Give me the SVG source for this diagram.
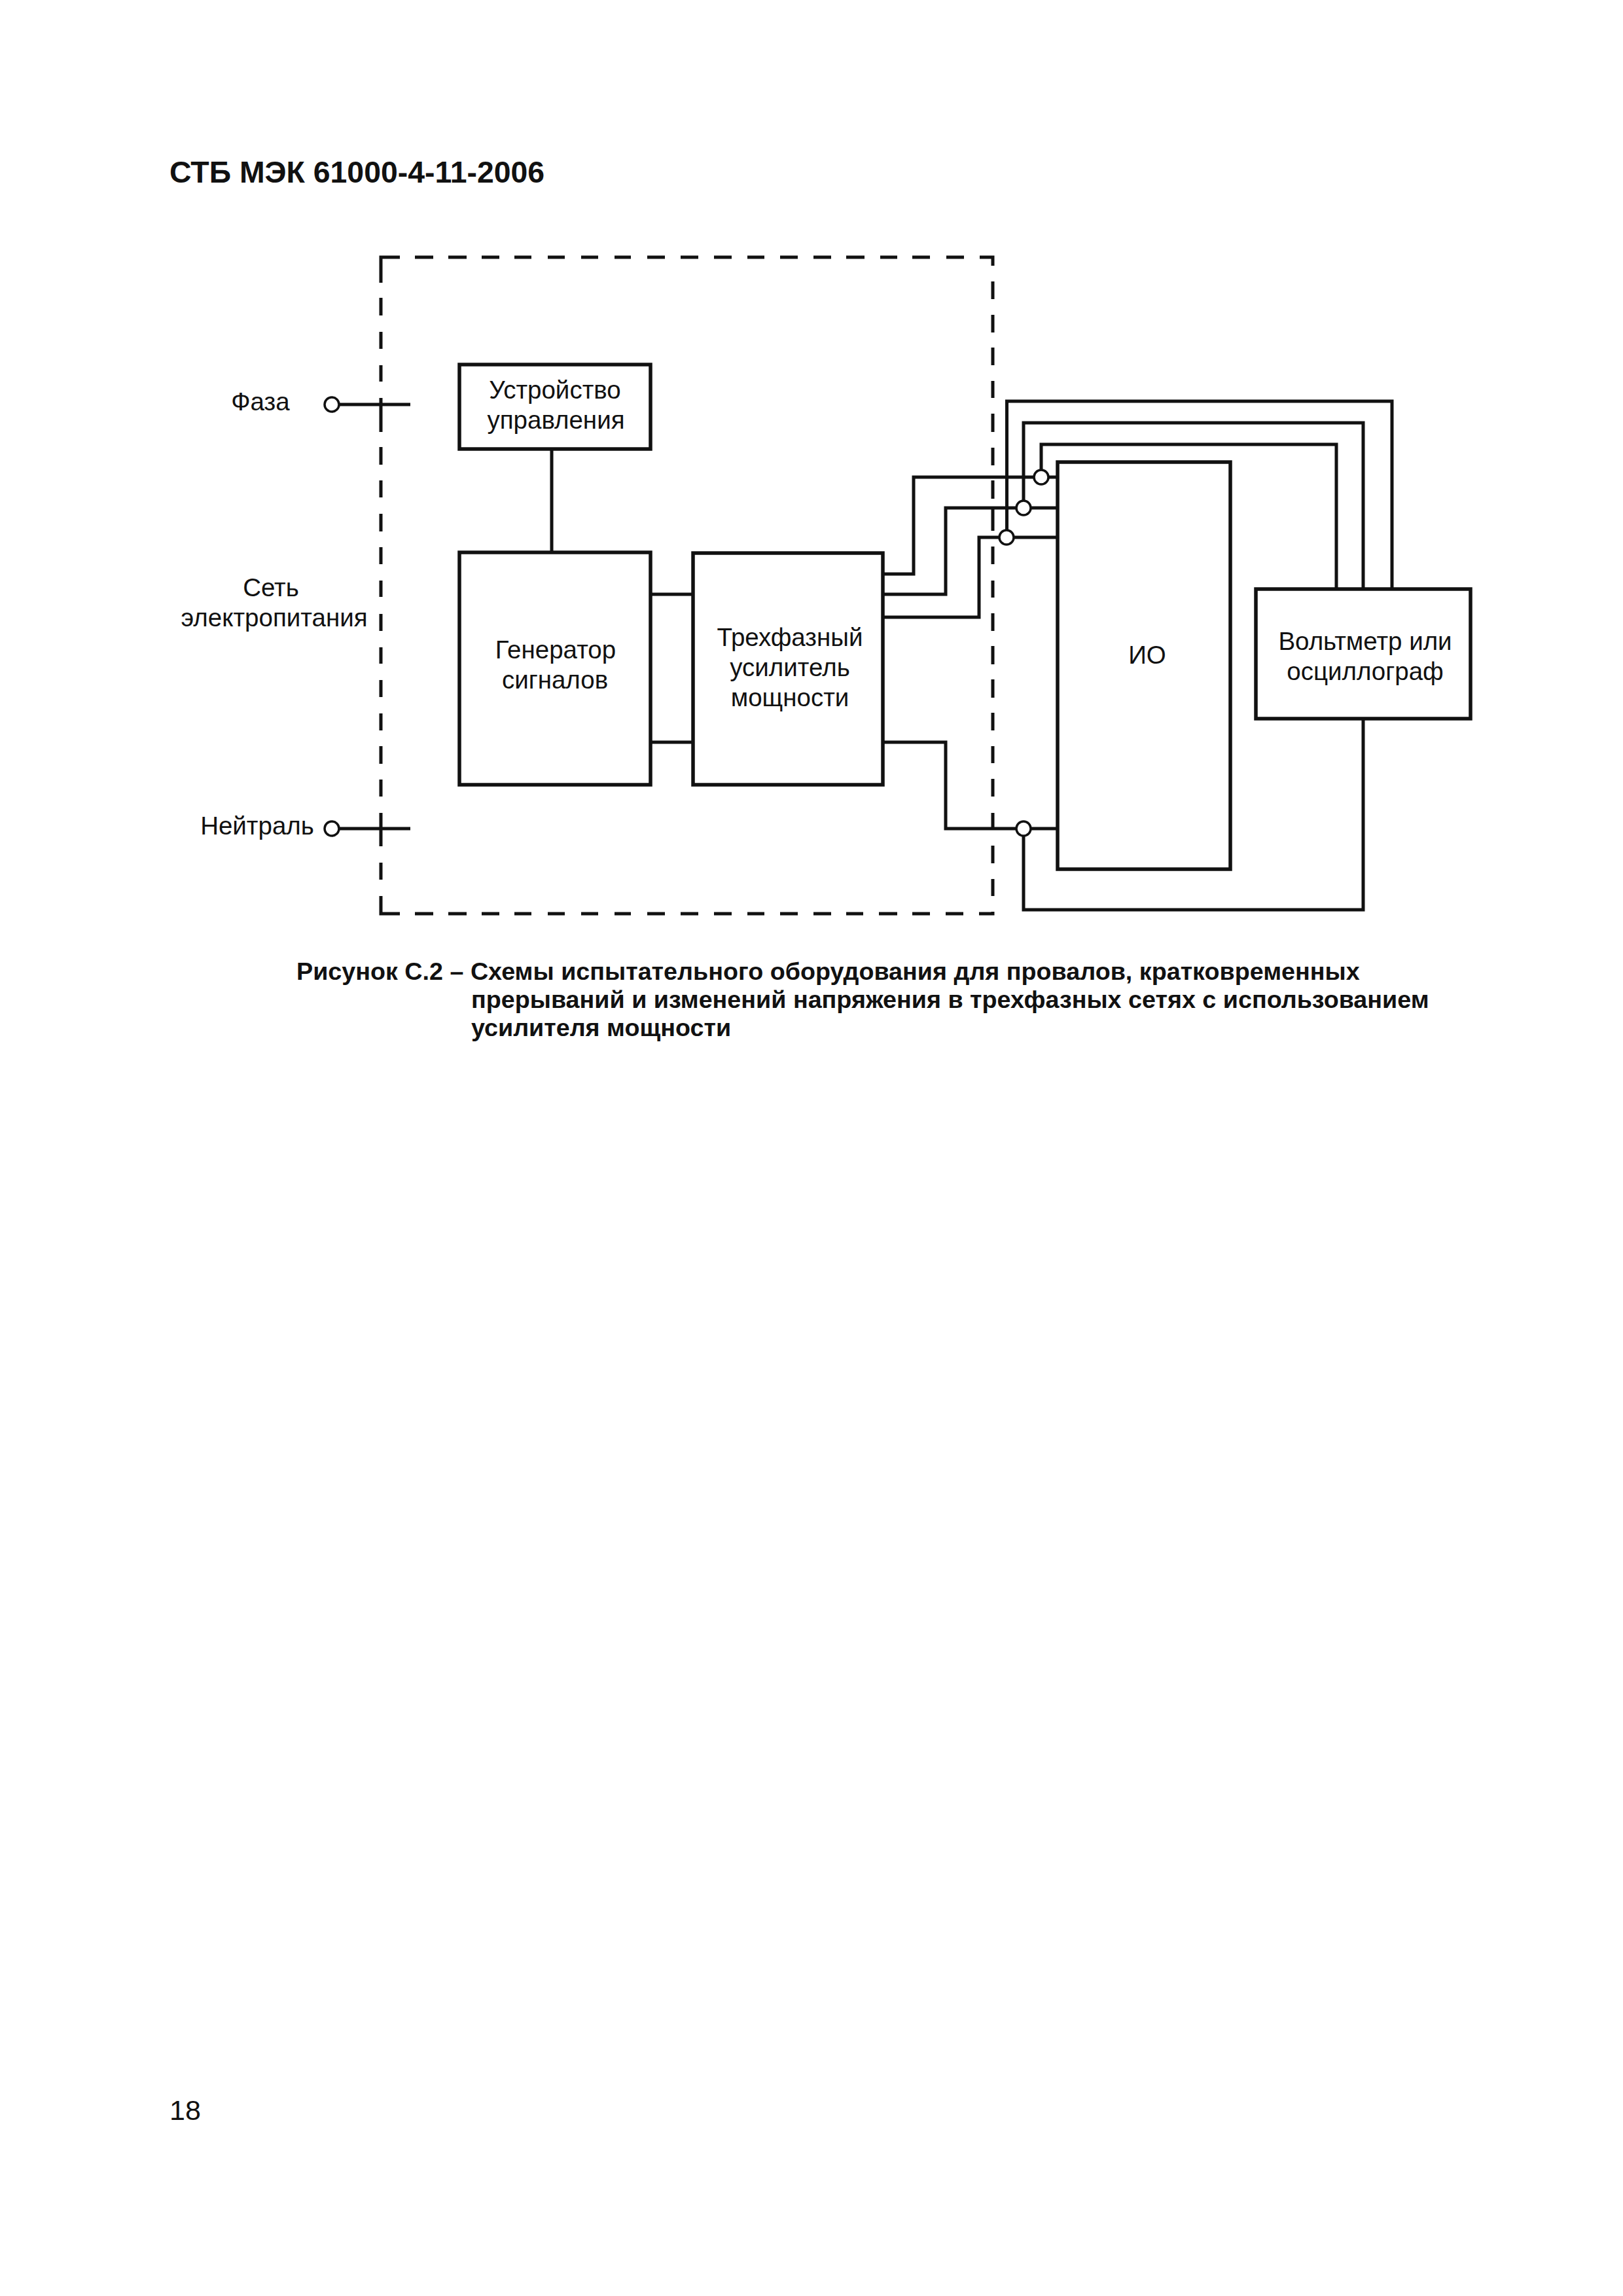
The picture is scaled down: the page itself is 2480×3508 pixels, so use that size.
<svg xmlns="http://www.w3.org/2000/svg" width="2480" height="3508" viewBox="0 0 2480 3508">
<style>
text{font-family:"Liberation Sans",Arial,sans-serif;fill:#111}
.l{font-size:38.5px;text-anchor:middle}
.c{font-size:37.7px;font-weight:bold}
.h{font-size:46.4px;font-weight:bold}
.w{fill:none;stroke:#111;stroke-width:5}
.b{fill:#fff;stroke:#111;stroke-width:5.5}
.o{fill:#fff;stroke:#111;stroke-width:3.5}
</style>
<rect width="2480" height="3508" fill="#fff"/>
<text id="header" class="h" x="259" y="279">СТБ МЭК 61000-4-11-2006</text>
<g id="boundary">
<path class="w" d="M582 432V393H611M634 393H662M685 393H713M736 393H763M786 393H812M837 393H863M888 393H914M939 393H964M989 393H1016M1040 393H1067M1091 393H1118M1142 393H1168M1192 393H1219M1243 393H1270M1293 393H1321M1345 393H1371M1394 393H1421M1446 393H1473M1497 393H1517V406"/>
<path class="w" d="M582 455V482M582 507V533M582 558V583M582 608V660M582 683V710M582 734V760M582 785V812M582 836V862M582 887V912M582 938V964M582 989V1014M582 1039V1065M582 1090V1116M582 1140V1167M582 1191V1217M582 1242V1293M582 1318V1344M582 1369V1396H611"/>
<path class="w" d="M634 1396H662M685 1396H713M736 1396H763M786 1396H812M837 1396H863M888 1396H914M939 1396H964M989 1396H1016M1040 1396H1067M1091 1396H1118M1142 1396H1168M1192 1396H1219M1243 1396H1270M1293 1396H1319M1343 1396H1371M1394 1396H1421M1445 1396H1472M1496 1396H1517V1393"/>
<path class="w" d="M1517 430V457M1517 481V508M1517 531V558M1517 582V608M1517 632V660M1517 684V711M1517 734V762M1517 777V811M1517 835V862M1517 887V913M1517 937V964M1517 987V1015M1517 1038V1066M1517 1089V1116M1517 1140V1166M1517 1190V1217M1517 1242V1266M1517 1292V1319M1517 1343V1369"/>
</g>
<g id="connectors">
<path class="w" d="M519 618H627M519 1266H627"/>
<path class="w" d="M843 686V844M994 908H1059M994 1134H1059"/>
<path class="w" d="M1350 877H1396V729H1616M1350 908H1445V776H1616M1350 943H1496V821H1616M1350 1134H1445V1266H1616"/>
<path class="w" d="M1538.5 821V613H2127V900M1564 776V646H2083V900M1591 729V679H2042V900"/>
<path class="w" d="M1564 1266V1390H2083V1098"/>
</g>
<g id="control"><rect class="b" x="702" y="557" width="292" height="129"/>
<text class="l" x="848" y="609">Устройство</text><text class="l" x="849.5" y="655">управления</text></g>
<g id="generator"><rect class="b" x="702" y="844" width="292" height="355"/>
<text class="l" x="849" y="1006">Генератор</text><text class="l" x="848" y="1052">сигналов</text></g>
<g id="amplifier"><rect class="b" x="1059" y="845" width="290" height="354"/>
<text class="l" x="1207" y="987">Трехфазный</text><text class="l" x="1207" y="1033">усилитель</text><text class="l" x="1207" y="1079">мощности</text></g>
<g id="eut"><rect class="b" x="1616" y="706" width="264" height="622"/>
<text class="l" x="1753" y="1014">ИО</text></g>
<g id="meter"><rect class="b" x="1919" y="900" width="328" height="198"/>
<text class="l" x="2086" y="993">Вольтметр или</text><text class="l" x="2086" y="1039">осциллограф</text></g>
<g id="terminals">
<circle class="o" cx="507" cy="618" r="11" /><circle class="o" cx="507" cy="1266" r="11"/>
<circle class="o" cx="1591" cy="729" r="11"/><circle class="o" cx="1564" cy="776" r="11"/><circle class="o" cx="1538" cy="821" r="11"/><circle class="o" cx="1564" cy="1266" r="11"/>
</g>
<g id="labels">
<text class="l" x="398" y="627">Фаза</text>
<text class="l" x="414" y="911">Сеть</text><text class="l" x="419" y="957">электропитания</text>
<text class="l" x="393" y="1275">Нейтраль</text>
</g>
<g id="caption">
<text class="c" x="453" y="1497">Рисунок С.2 – Схемы испытательного оборудования для провалов, кратковременных</text>
<text class="c" x="720" y="1540">прерываний и изменений напряжения в трехфазных сетях с использованием</text>
<text class="c" x="720" y="1583">усилителя мощности</text>
</g>
<text id="page" x="259" y="3239" font-size="43">18</text>
</svg>
